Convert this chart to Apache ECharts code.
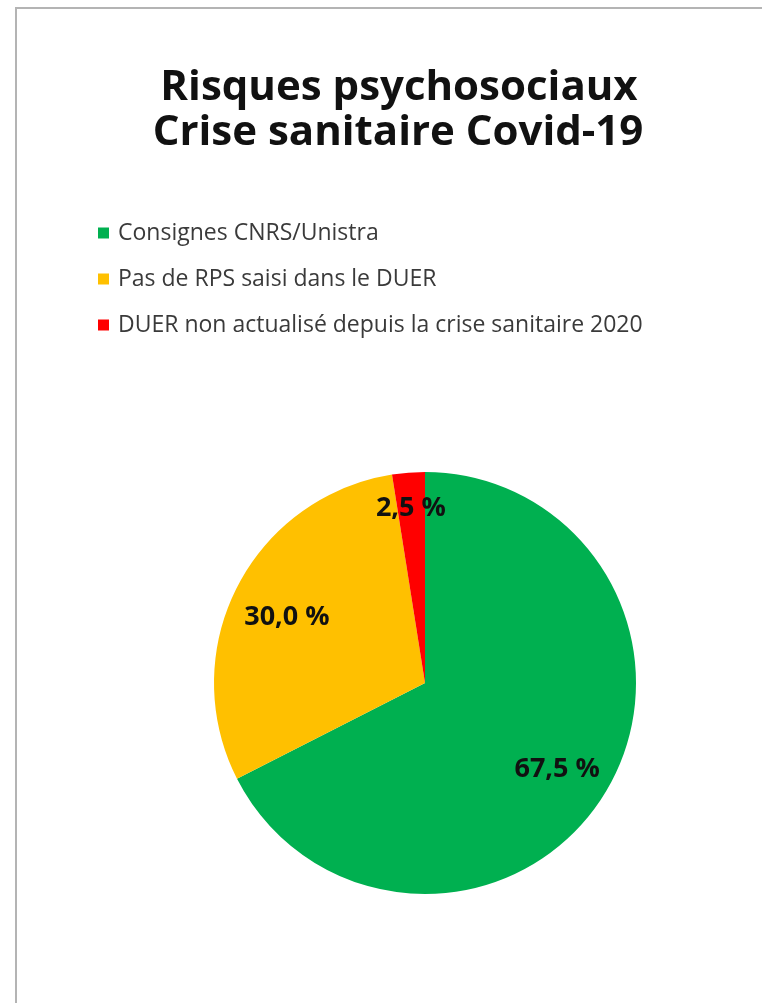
<!DOCTYPE html>
<html>
<head>
<meta charset="utf-8">
<script src="https://cdn.jsdelivr.net/npm/echarts@6/dist/echarts.min.js"></script>
<style>
html,body{margin:0;padding:0;background:#fff;}
#c{width:762px;height:1003px;}
</style>
</head>
<body>
<div id="c"></div>
<script>
const titleLines = ['Risques psychosociaux', 'Crise sanitaire Covid-19'];
const categories = ['Consignes CNRS/Unistra', 'Pas de RPS saisi dans le DUER', 'DUER non actualisé depuis la crise sanitaire 2020'];
const values = [67.5, 30.0, 2.5];
const colors = ['#00B050', '#FFC000', '#FF0000'];

const fmt = v => v.toFixed(1).replace('.', ',') + ' %';
const FONT = '"Open Sans", "Noto Sans", sans-serif';

const pieData = categories.map((n, i) => ({ name: n, value: values[i], itemStyle: { color: colors[i] } }));
const center = [425, 683];

function labelSeries(showIdx, radius) {
  return {
    type: 'pie', center: center, radius: radius, startAngle: 90, clockwise: true,
    silent: true, animation: false, legendHoverLink: false,
    emphasis: { disabled: true },
    labelLine: { show: false },
    itemStyle: { color: 'transparent', borderWidth: 0 },
    data: categories.map((n, i) => ({
      name: n, value: values[i],
      itemStyle: { color: 'transparent' },
      label: {
        show: showIdx.includes(i), position: 'inside',
        formatter: () => fmt(values[i]),
        offset: [0, 5],
        fontFamily: FONT, fontWeight: 'bold', fontSize: 27, color: '#111'
      }
    }))
  };
}

const chart = echarts.init(document.getElementById('c'), null, { renderer: 'canvas' });
chart.setOption({
  backgroundColor: '#fff',
  animation: false,
  graphic: [
    { type: 'rect', shape: { x: 16, y: 8, width: 900, height: 1200 }, style: { fill: 'none', stroke: '#b4b4b4', lineWidth: 2 }, silent: true },
    { type: 'text', x: 399, y: 88, style: { text: titleLines[0], fontFamily: FONT, fontWeight: 'bold', fontSize: 42, fill: '#111', align: 'center', verticalAlign: 'middle' } },
    { type: 'text', x: 398, y: 133, style: { text: titleLines[1], fontFamily: FONT, fontWeight: 'bold', fontSize: 42, fill: '#111', align: 'center', verticalAlign: 'middle' } }
  ],
  legend: {
    orient: 'vertical', left: 93, top: 216,
    icon: 'rect', itemWidth: 11, itemHeight: 11, itemGap: 22,
    selectedMode: false,
    data: categories,
    textStyle: { fontFamily: FONT, fontSize: 23, color: '#3a3a3a', lineHeight: 24, padding: [0, 0, 0, 4] }
  },
  series: [
    {
      type: 'pie', center: center, radius: [0, 211], startAngle: 90, clockwise: true,
      animation: false, label: { show: false }, labelLine: { show: false },
      emphasis: { disabled: true },
      data: pieData
    },
    labelSeries([0, 1], [104, 200]),
    labelSeries([2], [154, 200])
  ]
});
</script>
</body>
</html>
